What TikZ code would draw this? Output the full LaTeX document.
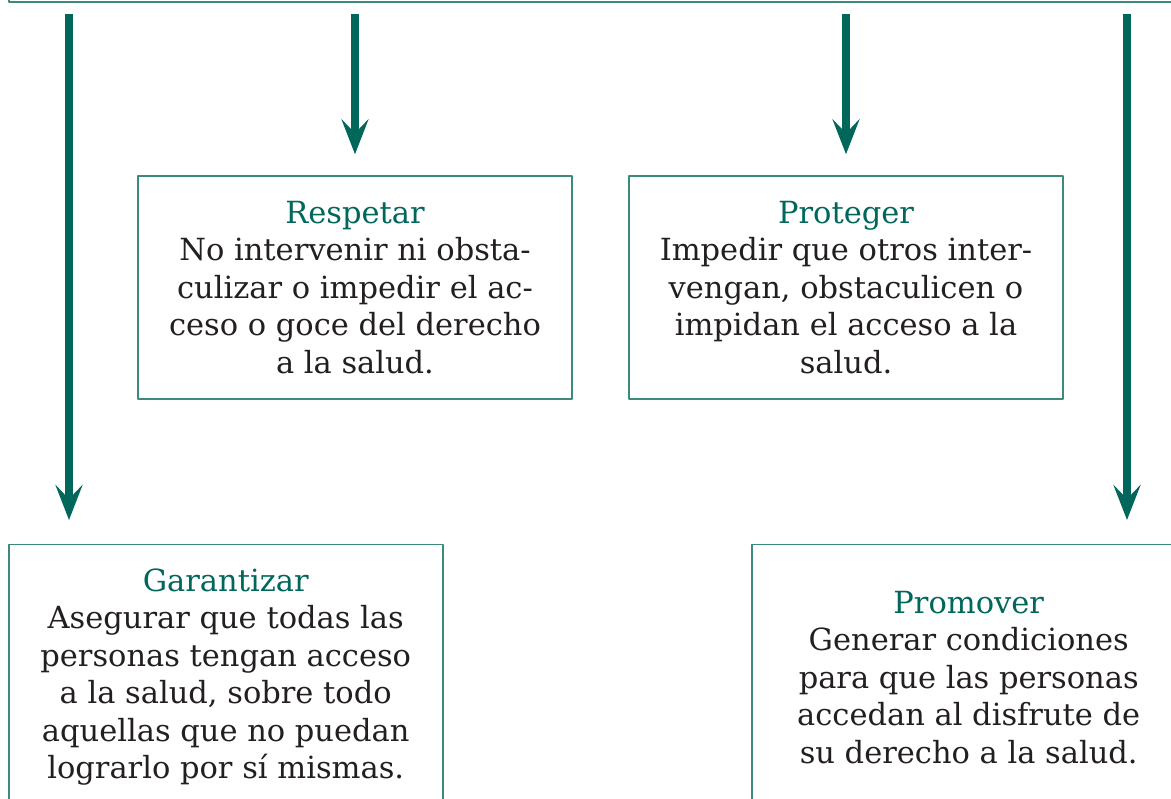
\documentclass[tikz,border=0pt]{standalone}
\usepackage{fontspec}
\setmainfont{DejaVu Serif}
\usetikzlibrary{arrows.meta,positioning}
\definecolor{verde}{HTML}{00675A}
\definecolor{borde}{HTML}{3D8A7C}
\definecolor{texto}{HTML}{231F20}
\newcommand{\titulo}[1]{{\color{verde}#1}}
\begin{document}
\begin{tikzpicture}[x=1pt, y=-1pt, font=\fontsize{30.5}{37.5}\selectfont, line join=round,
	caja/.style={draw=borde, line width=1.5pt, minimum width=434pt, minimum height=223pt, align=center, text=texto, inner sep=0pt},
	flecha/.style={draw=verde, line width=8pt, -{Stealth[length=35pt,width=27pt,inset=14pt,fill=verde]}}]
		\useasboundingbox (0,0) rectangle (1171,799);
		\coordinate (izq) at (69,0);
		\coordinate (der) at (1127,0);
		% marco superior (cortado)
		\node[caja, minimum width=1178pt, minimum height=80pt, anchor=south west] (marco) at (8,3) {};
		% cajas
		\node[caja] (respetar) at (355,287.5) {\titulo{Respetar}\\No intervenir ni obsta-\\culizar o impedir el ac-\\ceso o goce del derecho\\a la salud.};
		\node[caja] (proteger) at (846,287.5) {\titulo{Proteger}\\Impedir que otros inter-\\vengan, obstaculicen o\\impidan el acceso a la\\salud.};
		\node[caja, minimum height=265pt, anchor=north west] (garantizar) at (8,544) {\titulo{Garantizar}\\Asegurar que todas las\\personas tengan acceso\\a la salud, sobre todo\\aquellas que no puedan\\lograrlo por sí mismas.};
		\node[caja, minimum height=265pt, anchor=north west] (promover) at (751,544) {\titulo{Promover}\\Generar condiciones\\para que las personas\\accedan al disfrute de\\su derecho a la salud.};
		% flechas
		\draw[flecha] ([yshift=-11pt]marco.south -| izq) -- ([yshift=24pt]garantizar.north -| izq);
		\draw[flecha] ([yshift=-11pt]marco.south -| respetar.north) -- ([yshift=21pt]respetar.north);
		\draw[flecha] ([yshift=-11pt]marco.south -| proteger.north) -- ([yshift=21pt]proteger.north);
		\draw[flecha] ([yshift=-11pt]marco.south -| der) -- ([yshift=24pt]promover.north -| der);
\end{tikzpicture}
\end{document}
